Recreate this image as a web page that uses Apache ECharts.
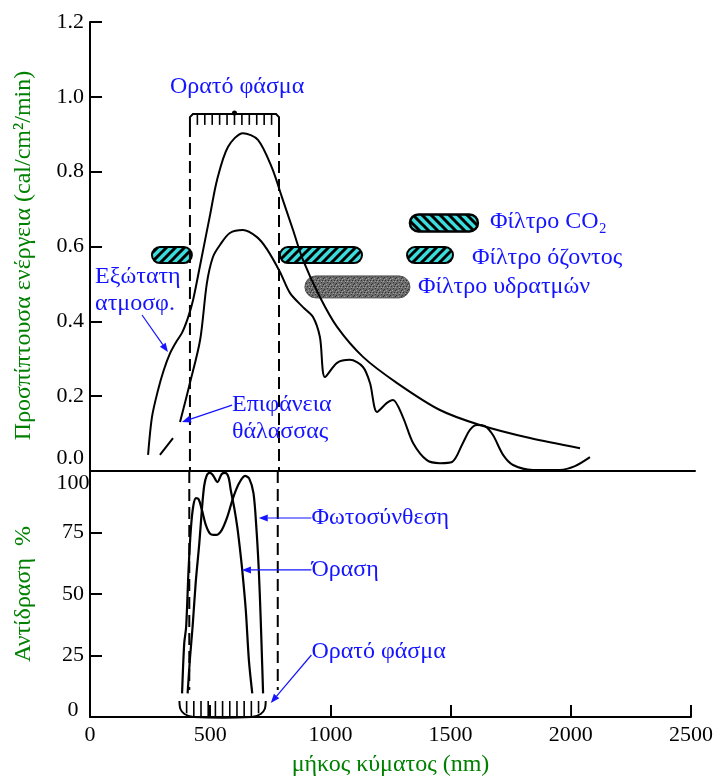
<!DOCTYPE html>
<html>
<head>
<meta charset="utf-8">
<title>Ηλιακή ακτινοβολία</title>
<script src="https://cdn.jsdelivr.net/npm/echarts@6/dist/echarts.min.js"></script>
<style>
  html, body { margin: 0; padding: 0; background: #fff; }
  #chart { width: 716px; height: 778px; }
</style>
</head>
<body>
<div id="chart"></div>
<script>
// [wavelength nm, energy cal/cm2/min]
const outerAtmosphere = [[240,0.043],[256,0.144],[281,0.216],[305,0.27],[331,0.315],[356,0.345],[380,0.369],[405,0.41],[426,0.457],[455,0.55],[496,0.684],[525,0.778],[570,0.866],[632,0.903],[694,0.885],[752,0.81],[793,0.732],[839,0.644],[880,0.564],[950,0.465],[1021,0.385],[1128,0.305],[1269,0.235],[1446,0.163],[1611,0.123],[1818,0.088],[2025,0.061]];
const seaSurface = [[289,0.043],[343,0.088],null,[372,0.131],[413,0.235],[455,0.35],[483,0.502],[508,0.572],[537,0.604],[578,0.636],[632,0.644],[690,0.625],[731,0.593],[785,0.532],[826,0.476],[880,0.438],[921,0.412],[950,0.358],[971,0.251],[1021,0.289],[1074,0.297],[1128,0.278],[1157,0.235],[1186,0.158],[1227,0.182],[1252,0.19],[1293,0.144],[1335,0.075],[1392,0.029],[1446,0.021],[1496,0.024],[1541,0.075],[1570,0.11],[1599,0.123],[1632,0.12],[1665,0.096],[1707,0.043],[1748,0.016],[1830,0.003],[1942,0.003],[2004,0.013],[2066,0.037]];
// [wavelength nm, response %]
const photosynthesis = [[383,9.6],[392,30],[400,36.7],[410,60],[420,77],[430,86],[441,89],[452,88.5],[466,84],[482,78],[500,74.5],[525,74],[548,76],[570,81],[595,89],[620,95],[645,98],[662,97],[680,91],[692,77],[702,60],[710,40],[716,22],[720,9.6]];
const vision = [[406,9.6],[416,24],[427,37],[440,55],[455,71],[466,85],[475,94],[485,98],[497,99.2],[510,98.5],[530,95.5],[548,98.8],[562,99.2],[576,97.5],[586,92],[600,85],[613,77],[623,69],[633,60],[648,43.5],[661,23],[675,9.6]];

// visible spectrum limits (nm)
const visibleEdges = [413, 781];
const topBand = [[413, 781, 0.925, 0.954]];
const bottomBand = [[372, 731, 0, 6.5]];

// filters: [from nm, to nm, energy level]
const ozoneFilters = [[256,421,0.577],[785,1124,0.577],[1310,1500,0.577]];
const co2Filter = [[1322,1603,0.663]];
const vapourFilter = [[888,1322,0.492]];

// notes: [x, y] in data units
const topNoteTexts = ['Ορατό φάσμα', 'Εξώτατη\nατμοσφ.', 'Επιφάνεια\nθάλασσας', 'Φίλτρο CO₂', 'Φίλτρο όζοντος', 'Φίλτρο υδρατμών'];
const topNotePos = [[608,1.026],[21,0.484],[587,0.142],[1653,0.665],[1578,0.569],[1355,0.492]];
const bottomNoteTexts = ['Φωτοσύνθεση', 'Όραση', 'Ορατό φάσμα'];
const bottomNotePos = [[921,80.9],[921,59.8],[921,26.4]];
// arrows [x1, y1, x2, y2]
const topArrows = [[215,0.417,322,0.318],[587,0.176,380,0.131]];
const bottomArrows = [[921,80.9,702,80.9],[921,59.8,632,59.8],[921,25.2,752,5.7]];

const FONT = '"Liberation Serif", "Times New Roman", serif';
const BLUE = '#1414ff';
const GREEN = '#008000';

function stripes(dir) {
  const c = document.createElement('canvas');
  c.width = c.height = 9;
  const g = c.getContext('2d');
  g.fillStyle = '#3ddcdc';
  g.fillRect(0, 0, 9, 9);
  g.strokeStyle = '#000';
  g.lineWidth = 3;
  g.beginPath();
  for (let k = -9; k <= 9; k += 9) {
    if (dir > 0) { g.moveTo(k - 2, 11); g.lineTo(k + 11, -2); }
    else { g.moveTo(k - 2, -2); g.lineTo(k + 11, 11); }
  }
  g.stroke();
  return c;
}
function speckle() {
  const c = document.createElement('canvas');
  c.width = c.height = 6;
  const g = c.getContext('2d');
  g.fillStyle = '#6c6c6c';
  g.fillRect(0, 0, 6, 6);
  g.fillStyle = '#333';
  [[0,1],[3,0],[4,4],[1,4],[5,2]].forEach(p => g.fillRect(p[0], p[1], 1, 1));
  g.fillStyle = '#a0a0a0';
  [[2,2],[5,5],[0,3],[3,5]].forEach(p => g.fillRect(p[0], p[1], 1, 1));
  return c;
}

function pill(h, fill, stroke, lw) {
  return function (params, api) {
    const a = api.coord([api.value(0), api.value(2)]);
    const b = api.coord([api.value(1), api.value(2)]);
    return {
      type: 'rect',
      shape: { x: a[0], y: a[1] - h / 2, width: b[0] - a[0], height: h, r: h / 2 },
      style: { fill: fill, stroke: stroke, lineWidth: lw }
    };
  };
}

function arrowItem(params, api) {
  const p = api.coord([api.value(0), api.value(1)]);
  const q = api.coord([api.value(2), api.value(3)]);
  const ang = Math.atan2(q[1] - p[1], q[0] - p[0]);
  const L = 9, W = 3.5;
  const bx = q[0] - L * Math.cos(ang), by = q[1] - L * Math.sin(ang);
  return {
    type: 'group',
    children: [
      { type: 'line', shape: { x1: p[0], y1: p[1], x2: bx, y2: by }, style: { stroke: BLUE, lineWidth: 1.2 } },
      { type: 'polygon', shape: { points: [q, [bx - W * Math.sin(ang), by + W * Math.cos(ang)], [bx + W * Math.sin(ang), by - W * Math.cos(ang)]] }, style: { fill: BLUE } }
    ]
  };
}

function noteItem(texts, align) {
  return function (params, api) {
    const p = api.coord([api.value(0), api.value(1)]);
    return {
      type: 'text', x: p[0], y: p[1],
      style: {
        text: texts[params.dataIndex], fill: BLUE, fontSize: 24, fontFamily: FONT,
        align: align(params.dataIndex), verticalAlign: 'middle', lineHeight: 27
      }
    };
  };
}

function topBandItem(params, api) {
  const a = api.coord([api.value(0), api.value(3)]);
  const b = api.coord([api.value(1), api.value(2)]);
  const children = [{
    type: 'polyline',
    shape: { points: [[a[0], b[1]], [a[0], a[1] + 3], [a[0] + 3, a[1]], [b[0] - 3, a[1]], [b[0], a[1] + 3], [b[0], b[1]]] },
    style: { stroke: '#000', lineWidth: 2, fill: null }
  }];
  const n = Math.round((b[0] - a[0]) / 7.2);
  for (let i = 1; i < n; i++) {
    const x = a[0] + i * (b[0] - a[0]) / n;
    children.push({ type: 'line', shape: { x1: x, y1: a[1], x2: x, y2: b[1] }, style: { stroke: '#000', lineWidth: 1.6 } });
  }
  children.push({ type: 'circle', shape: { cx: (a[0] + b[0]) / 2, cy: a[1] - 1, r: 2.5 }, style: { fill: '#000' } });
  return { type: 'group', children: children };
}

function bottomBandItem(params, api) {
  const a = api.coord([api.value(0), api.value(3)]);
  const b = api.coord([api.value(1), api.value(2)]);
  const children = [{
    type: 'polyline',
    shape: { points: [[a[0], a[1]], [a[0] + 1, b[1] - 8], [a[0] + 5, b[1] - 3], [a[0] + 14, b[1]], [b[0] - 14, b[1]], [b[0] - 5, b[1] - 3], [b[0] - 1, b[1] - 8], [b[0], a[1]]], smooth: 0.3 },
    style: { stroke: '#000', lineWidth: 2, fill: null }
  }];
  const n = Math.round((b[0] - a[0]) / 7.4);
  for (let i = 1; i < n; i++) {
    const x = a[0] + i * (b[0] - a[0]) / n;
    const d = Math.min(x - a[0], b[0] - x);
    const yb = d < 14 ? b[1] - (14 - d) * 0.55 : b[1];
    children.push({ type: 'line', shape: { x1: x, y1: a[1], x2: x, y2: yb }, style: { stroke: '#000', lineWidth: 1.6 } });
  }
  return { type: 'group', children: children };
}

const axisLine = { show: true, onZero: false, lineStyle: { color: '#000', width: 2 } };
const axisTick = { show: true, inside: true, length: 12, lineStyle: { color: '#000', width: 2 } };

const chart = echarts.init(document.getElementById('chart'));
chart.setOption({
  animation: false,
  backgroundColor: '#fff',
  grid: [
    { left: 90, right: 21, top: 22, height: 449 },
    { left: 90, right: 21, top: 471, height: 246 }
  ],
  xAxis: [
    { gridIndex: 0, type: 'value', min: 0, max: 2500, interval: 500, axisLine: axisLine,
      axisTick: { show: false }, axisLabel: { show: false }, splitLine: { show: false } },
    { gridIndex: 1, type: 'value', min: 0, max: 2500, interval: 500, axisLine: axisLine,
      axisTick: axisTick, splitLine: { show: false },
      axisLabel: { color: '#000', fontSize: 22, fontFamily: FONT, margin: 7, formatter: v => String(v) },
      name: 'μήκος κύματος (nm)', nameLocation: 'middle', nameGap: 36,
      nameTextStyle: { color: GREEN, fontSize: 24, fontFamily: FONT } }
  ],
  yAxis: [
    { gridIndex: 0, type: 'value', min: 0, max: 1.2, interval: 0.2, axisLine: axisLine,
      axisTick: axisTick, splitLine: { show: false },
      axisLabel: {
        color: '#000', margin: 6,
        formatter: v => v === 0 ? '{lo|0.0}' : '{n|' + v.toFixed(1) + '}',
        rich: { n: { fontSize: 22, fontFamily: FONT }, lo: { fontSize: 22, fontFamily: FONT, padding: [0, 0, 26, 0] } }
      },
      name: 'Προσπίπτουσα ενέργεια (cal/cm²/min)', nameLocation: 'middle', nameGap: 54,
      nameTextStyle: { color: GREEN, fontSize: 24, fontFamily: FONT, padding: [0, 18, 0, 0] } },
    { gridIndex: 1, type: 'value', min: 0, max: 100, interval: 25, axisLine: axisLine,
      axisTick: axisTick, splitLine: { show: false },
      axisLabel: {
        color: '#000', margin: 17, align: 'center',
        formatter: v => v === 100 ? '{hi|100}' : v === 0 ? '{lo|0}' : '{n|' + v + '}',
        rich: {
          n: { fontSize: 22, fontFamily: FONT },
          hi: { fontSize: 22, fontFamily: FONT, padding: [24, 0, 0, 0] },
          lo: { fontSize: 22, fontFamily: FONT, padding: [0, 0, 14, 0] }
        }
      },
      name: 'Αντίδραση  %', nameLocation: 'middle', nameGap: 54,
      nameTextStyle: { color: GREEN, fontSize: 24, fontFamily: FONT } }
  ],
  series: [
    { type: 'custom', xAxisIndex: 0, yAxisIndex: 0, z: 1, renderItem: pill(16, { image: stripes(1), repeat: 'repeat' }, '#000', 2),
      encode: { x: [0, 1], y: 2 }, data: ozoneFilters },
    { type: 'custom', xAxisIndex: 0, yAxisIndex: 0, z: 1, renderItem: pill(17, { image: stripes(-1), repeat: 'repeat' }, '#000', 2.5),
      encode: { x: [0, 1], y: 2 }, data: co2Filter },
    { type: 'custom', xAxisIndex: 0, yAxisIndex: 0, z: 1, renderItem: pill(22, { image: speckle(), repeat: 'repeat' }, '#555', 1),
      encode: { x: [0, 1], y: 2 }, data: vapourFilter },
    { type: 'line', xAxisIndex: 0, yAxisIndex: 0, z: 3, data: outerAtmosphere, smooth: 0.3, symbol: 'none',
      lineStyle: { color: '#000', width: 2 } },
    { type: 'line', xAxisIndex: 0, yAxisIndex: 0, z: 3, data: seaSurface, smooth: 0.3, symbol: 'none', connectNulls: false,
      lineStyle: { color: '#000', width: 2 } },
    ...visibleEdges.map(x => ({ type: 'line', xAxisIndex: 0, yAxisIndex: 0, z: 2, symbol: 'none',
      data: [[x, topBand[0][2]], [x, 0]], lineStyle: { color: '#000', width: 2, type: [12, 6] } })),
    ...visibleEdges.map(x => ({ type: 'line', xAxisIndex: 1, yAxisIndex: 1, z: 2, symbol: 'none',
      data: [[x, 100], [x, 11]], lineStyle: { color: '#000', width: 2, type: [12, 6] } })),
    { type: 'custom', xAxisIndex: 0, yAxisIndex: 0, z: 3, renderItem: topBandItem, encode: { x: [0, 1], y: [2, 3] }, data: topBand },
    { type: 'custom', xAxisIndex: 1, yAxisIndex: 1, z: 3, renderItem: bottomBandItem, encode: { x: [0, 1], y: [2, 3] }, data: bottomBand },
    { type: 'line', xAxisIndex: 1, yAxisIndex: 1, z: 3, data: photosynthesis, smooth: 0.3, symbol: 'none',
      lineStyle: { color: '#000', width: 2.2 } },
    { type: 'line', xAxisIndex: 1, yAxisIndex: 1, z: 3, data: vision, smooth: 0.3, symbol: 'none',
      lineStyle: { color: '#000', width: 2.2 } },
    { type: 'custom', xAxisIndex: 0, yAxisIndex: 0, z: 4, renderItem: arrowItem, encode: { x: [0, 2], y: [1, 3] }, data: topArrows },
    { type: 'custom', xAxisIndex: 1, yAxisIndex: 1, z: 4, renderItem: arrowItem, encode: { x: [0, 2], y: [1, 3] }, data: bottomArrows },
    { type: 'custom', xAxisIndex: 0, yAxisIndex: 0, z: 4, renderItem: noteItem(topNoteTexts, i => i === 0 ? 'center' : 'left'),
      encode: { x: 0, y: 1 }, data: topNotePos },
    { type: 'custom', xAxisIndex: 1, yAxisIndex: 1, z: 4, renderItem: noteItem(bottomNoteTexts, () => 'left'),
      encode: { x: 0, y: 1 }, data: bottomNotePos }
  ]
});
</script>
</body>
</html>
